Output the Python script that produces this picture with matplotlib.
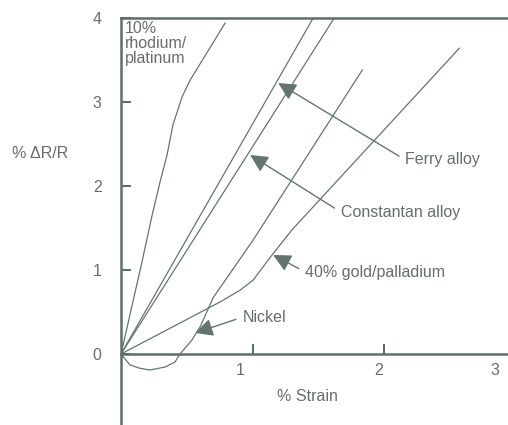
import matplotlib.pyplot as plt

# strain (%) vs resistance change (%)
RHODIUM_X = [0, 0.16, 0.236, 0.297, 0.350, 0.395, 0.464, 0.525, 0.791]
RHODIUM_Y = [0, 1.10, 1.65, 2.05, 2.37, 2.73, 3.06, 3.26, 3.94]

FERRY_X = [0, 1.46]
FERRY_Y = [0, 4.0]

CONSTANTAN_X = [0, 1.62]
CONSTANTAN_Y = [0, 4.0]

NICKEL_X = [0, 0.068, 0.144, 0.22, 0.335, 0.41, 0.449, 0.54, 0.60, 0.70, 1.004, 1.833]
NICKEL_Y = [0, -0.13, -0.17, -0.19, -0.155, -0.095, 0.0, 0.17, 0.32, 0.67, 1.357, 3.38]

GOLD_X = [0, 0.753, 0.905, 1.004, 1.133, 1.30, 2.57]
GOLD_Y = [0, 0.62, 0.76, 0.88, 1.15, 1.48, 3.64]

Y_TICKS = [0, 1, 2, 3, 4]
X_TICKS = [1, 2]
X_TICK_LABELS = ["1", "2", "3"]
X_TICK_LABEL_POS = [0.905, 1.96, 2.84]

# (label, arrow tip, text anchor)
CALLOUTS = [
    ("Ferry alloy", (1.194, 3.226), (2.16, 2.31)),
    ("Constantan alloy", (0.981, 2.369), (1.67, 1.69)),
    ("40% gold/palladium", (1.156, 1.179), (1.40, 0.976)),
    ("Nickel", (0.563, 0.25), (0.925, 0.44)),
]

LINE = "#647570"
AXIS = "#5e6e68"
TEXT = "#676d6a"
FS = 11.5

plt.rcParams["font.family"] = ["Liberation Sans", "DejaVu Sans"]
plt.rcParams["font.size"] = FS

fig = plt.figure(figsize=(5.08, 4.25), dpi=100)
ax = fig.add_axes([121 / 508, 0, 387 / 508, 407 / 425])

for xs, ys in [(RHODIUM_X, RHODIUM_Y), (FERRY_X, FERRY_Y),
               (CONSTANTAN_X, CONSTANTAN_Y), (NICKEL_X, NICKEL_Y),
               (GOLD_X, GOLD_Y)]:
    ax.plot(xs, ys, color=LINE, lw=0.9)

for label, tip, anchor in CALLOUTS:
    ax.annotate(label, xy=tip, xytext=anchor, ha="left", va="center",
                color=TEXT, fontsize=FS,
                arrowprops=dict(arrowstyle="-|>,head_length=0.9,head_width=0.45",
                                color=LINE, lw=1.0, mutation_scale=12,
                                relpos=(0, 0.5), shrinkA=3, shrinkB=0))

ax.text(0.03, 3.96, "10%\nrhodium/\nplatinum", ha="left", va="top",
        color=TEXT, fontsize=FS, linespacing=1.0)

ax.set_xlim(0, 2.94)
ax.set_ylim(-0.845, 4.0)

ax.spines["right"].set_visible(False)
ax.spines["bottom"].set_position(("data", 0))
for side in ["left", "top", "bottom"]:
    ax.spines[side].set_color(AXIS)
    ax.spines[side].set_linewidth(1.8)

ax.set_yticks(Y_TICKS)
ax.set_xticks(X_TICKS)
ax.set_xticklabels([])
ax.tick_params(axis="both", direction="in", length=7, width=1.5, color=AXIS)
ax.tick_params(axis="y", pad=14, labelcolor=TEXT, labelsize=FS)

for pos, lab in zip(X_TICK_LABEL_POS, X_TICK_LABELS):
    ax.text(pos, -0.2, lab, ha="center", va="center", color=TEXT, fontsize=FS)

ax.text(0.481, 0.069, "% Strain", transform=ax.transAxes, ha="center",
        va="center", color=TEXT, fontsize=FS)
ax.text(-0.209, 0.666, "% \u0394R/R", transform=ax.transAxes, ha="center",
        va="center", color=TEXT, fontsize=FS)

fig.savefig("out.png", dpi=100)
